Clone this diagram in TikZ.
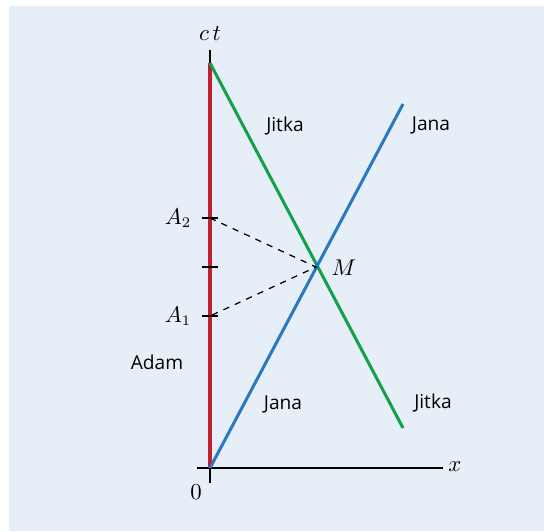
\documentclass[tikz,border=0pt]{standalone}
\usepackage{fontspec}
\setsansfont{Open Sans}
\usetikzlibrary{positioning,calc}
\usepackage{xcolor}
\definecolor{bgblue}{HTML}{E6EEF8}
\definecolor{adamred}{HTML}{C3202F}
\definecolor{jitkagreen}{HTML}{13A04A}
\definecolor{janablue}{HTML}{2A78C2}

\tikzset{
  worldline/.style={line width=1.45pt},
  axisline/.style={line width=0.7pt},
  name label/.style={font=\sffamily\fontsize{9.2}{11}\selectfont},
  math label/.style={font=\fontsize{10.5}{12}\selectfont},
  tickmark/.style={line width=0.7pt}
}

\begin{document}
\begin{tikzpicture}[x=0.48pt,y=-0.48pt]
% background panel, its white margin at the top and the left
\useasboundingbox (0,0) rectangle (544,531);
\fill[bgblue] (9,6) rectangle (544,531);
% events
\coordinate (O)  at (210,468);
\coordinate (T)  at (210,63);
\coordinate (Ct) at (210,50);
\coordinate (Xe) at (443,468);
\coordinate (Xs) at (197,468);
\coordinate (Ob) at (210,483);
\coordinate (M)  at (316,267);
\coordinate (A2) at (210,218);
\coordinate (A1) at (210,316);
\coordinate (Am) at (210,267);
\coordinate (Je) at (403,104);
\coordinate (Ke) at (403,428);
% axes
\draw[axisline] (Xs) -- (Xe);
\draw[axisline] (O) -- (Ob);
\draw[axisline] (Ct) -- (T);
% world lines
\draw[worldline, adamred] (O) -- (T);
\draw[worldline, jitkagreen] (T) -- (Ke);
\draw[worldline, janablue] (O) -- (Je);
% ticks on Adam's line
\foreach \p in {A1,Am,A2}
  \draw[tickmark] ($(\p)+(-8,0)$) -- ($(\p)+(8,0)$);
% light signals
\draw[dashed, line width=0.6pt] (A2) -- (M) -- (A1);
% labels
\node[math label] (ctlab) at (210,33) {$c\,t$};
\node[math label] (xlab) at (455,467) {$x$};
\node[math label] (zero) at (196,492) {$0$};
\node[math label] (a2lab) at (178,218) {$A_2$};
\node[math label] (a1lab) at (178,316) {$A_1$};
\node[math label] (mlab) at (344,268) {$M$};
\node[name label] (jitka1) at (285,126) {Jitka};
\node[name label] (jana1) at (431,125) {Jana};
\node[name label] (adam) at (157,362) {Adam};
\node[name label] (jana2) at (283,404) {Jana};
\node[name label] (jitka2) at (433,403) {Jitka};
\end{tikzpicture}
\end{document}
